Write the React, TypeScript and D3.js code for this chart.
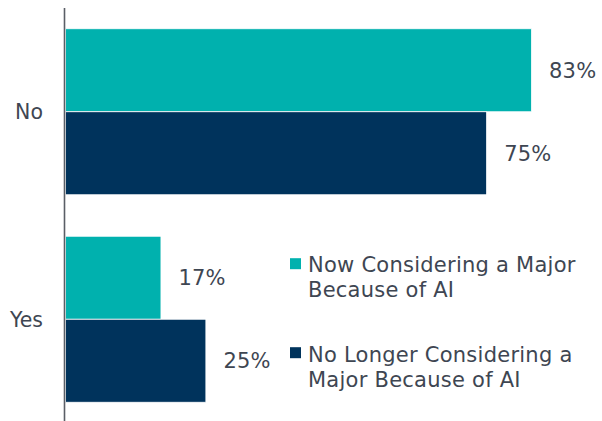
import React from "react";
import * as d3 from "d3";

const categories = ["No", "Yes"];
const seriesNames = [
  ["Now Considering a Major", "Because of AI"],
  ["No Longer Considering a", "Major Because of AI"],
];
const nowConsidering = [83, 17];
const noLongerConsidering = [75, 25];
const seriesColors = ["#00B1AE", "#00335C"];

const W = 602;
const H = 421;
const FONT = "'DejaVu Sans', Verdana, sans-serif";
const TEXT = "#3E4652";

export default function App() {
  const series = [nowConsidering, noLongerConsidering];
  const y = d3.scaleBand<string>().domain(categories).range([8, 423]).paddingInner(0.2).paddingOuter(0.1);
  const sub = d3.scaleBand<number>().domain([0, 1]).range([0, y.bandwidth()]);
  const x = d3.scaleLinear().domain([0, 100]).range([65.5, 627]);

  return (
    <svg width={W} height={H} style={{ position: "absolute", left: 0, top: 0, background: "#fff" }}>
      {categories.map((c, ci) =>
        series.map((vals, si) => {
          const y0 = (y(c) as number) + (sub(si) as number);
          const h = sub.bandwidth();
          const v = vals[ci];
          return (
            <g key={c + si}>
              <rect x={x(0)} y={y0} width={x(v) - x(0)} height={h} fill={seriesColors[si]} stroke="#fff" strokeWidth={0.8} />
              <text x={x(v) + 17.5} y={y0 + h / 2} dy="0.36em" fontFamily={FONT} fontSize={21} fill={TEXT} letterSpacing={0.2}>
                {v}%
              </text>
            </g>
          );
        })
      )}
      <line x1={64.5} x2={64.5} y1={8} y2={H} stroke="#5A5E66" strokeWidth={1.6} />
      {categories.map((c) => (
        <text key={c} x={43} y={(y(c) as number) + y.bandwidth() / 2} dy="0.36em" textAnchor="end" fontFamily={FONT} fontSize={20.5} fill={TEXT}>
          {c}
        </text>
      ))}
      {seriesNames.map((lines, si) => {
        const base = 271.7 + si * 90;
        return (
          <g key={si}>
            <rect x={290} y={base - 13.5 + (si === 1 ? -1 : 0)} width={11} height={11} fill={seriesColors[si]} />
            {lines.map((ln, li) => (
              <text key={li} x={308} y={base + li * 25} fontFamily={FONT} fontSize={21} fill={TEXT} letterSpacing={0.25}>
                {ln}
              </text>
            ))}
          </g>
        );
      })}
    </svg>
  );
}
